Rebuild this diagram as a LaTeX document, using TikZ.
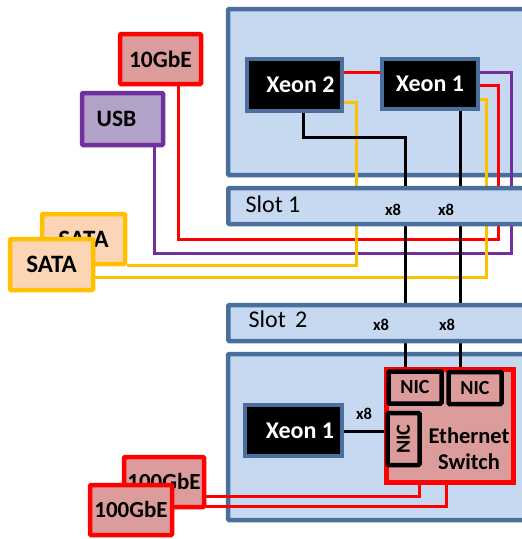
\documentclass[tikz,border=0pt]{standalone}
\usepackage{fontspec}
\setmainfont{Carlito}
\pgfdeclarelayer{boards}
\pgfdeclarelayer{wires}
\pgfsetlayers{boards,wires,main}
\definecolor{boardfill}{HTML}{C6D9F1}
\definecolor{boardline}{HTML}{4A6F9C}
\definecolor{redfill}{HTML}{DD9C9C}
\definecolor{purpfill}{HTML}{B3A2C7}
\definecolor{purpline}{HTML}{7030A0}
\definecolor{sataline}{HTML}{FFC000}
\definecolor{satafill}{HTML}{FBD5B5}
\tikzset{
  board/.style={draw=boardline, fill=boardfill, line width=4.5pt, rounded corners=1pt},
  xeon/.style={draw=boardline, fill=black, text=white, line width=4.5pt, font=\fontsize{24}{26}\selectfont\bfseries},
  dev/.style={line width=4.5pt, rounded corners=1pt, font=\fontsize{23.5}{26}\selectfont\bfseries},
  nic/.style={draw=black, fill=redfill, line width=4.5pt, rounded corners=1pt, inner sep=0pt, font=\fontsize{20}{22}\selectfont\bfseries},
  lane/.style={font=\fontsize{16.5}{18}\selectfont\bfseries},
  redwire/.style={draw=red, line width=3pt},
  purpwire/.style={draw=purpline, line width=3pt},
  satawire/.style={draw=sataline, line width=3pt},
  blackwire/.style={draw=black, line width=3pt}
}
\begin{document}
\begin{tikzpicture}[x=1pt, y=-1pt]
  \useasboundingbox (0,0) rectangle (522,539);

  \begin{pgfonlayer}{boards}
    \draw[board] (228,9) rectangle (535,175);
    \draw[board] (228,354) rectangle (535,520);
  \end{pgfonlayer}

  % top server
  \node[xeon, minimum width=95pt, minimum height=52pt] (xeonTwo) at (294.5,85) {\hspace*{12pt}Xeon 2};
  \node[xeon, minimum width=96pt, minimum height=50pt] (xeonOne) at (430,84) {Xeon 1};
  \node[board, anchor=west, minimum width=310pt, minimum height=36pt] (slotOne) at (226,206) {};
  \node[font=\fontsize{24}{26}\selectfont] (slotOneText) at (273,204) {Slot 1};
  \node[lane] (laneA) at (393,210) {x8};
  \node[lane] (laneB) at (446,210) {x8};

  % devices on the left
  \node[dev, draw=red, fill=redfill, minimum width=81pt, minimum height=50pt] (tenGbE) at (160.5,59) {10GbE};
  \node[dev, draw=purpline, fill=purpfill, minimum width=81pt, minimum height=52pt] (usb) at (122.5,119) {\hspace*{-12pt}USB};
  \node[dev, draw=sataline, fill=satafill, minimum width=83pt, minimum height=50pt, font=\fontsize{25}{27}\selectfont\bfseries] (sataBack) at (83.5,239) {SATA};
  \node[dev, draw=sataline, fill=satafill, minimum width=83pt, minimum height=51pt, font=\fontsize{25}{27}\selectfont\bfseries] (sataFront) at (51.5,264.5) {SATA};

  % bottom server
  \node[board, anchor=west, minimum width=310pt, minimum height=36pt] (slotTwo) at (226,323) {};
  \node[font=\fontsize{24}{26}\selectfont] (slotTwoText) at (278,319) {Slot\, 2};
  \node[lane] (laneC) at (381,325) {x8};
  \node[lane] (laneD) at (447,325) {x8};
  \node[xeon, minimum width=97pt, minimum height=51pt] (xeonLow) at (293.5,430.5) {\hspace*{13pt}Xeon 1};
  \node[draw=red, fill=redfill, line width=5pt, minimum width=127pt, minimum height=113pt] (switch) at (449.5,425.5) {};
  \node[nic, minimum width=53pt, minimum height=32pt] (nicA) at (415,387.5) {NIC};
  \node[nic, minimum width=53pt, minimum height=32pt] (nicB) at (475,388) {NIC};
  \node[nic, minimum width=32pt, minimum height=52pt] (nicC) at (403.5,439) {\rotatebox{90}{NIC}};
  \node[align=center, inner sep=0pt, font=\fontsize{22.5}{26}\selectfont\bfseries] (switchText) at (469,449) {Ethernet\\Switch};
  \node[lane] (laneE) at (364,414) {x8};
  \node[dev, draw=red, fill=redfill, minimum width=80pt, minimum height=50pt, font=\fontsize{23}{26}\selectfont\bfseries] (hundredBack) at (164,482) {100GbE};
  \node[dev, draw=red, fill=redfill, minimum width=82pt, minimum height=50pt, font=\fontsize{23}{26}\selectfont\bfseries] (hundredFront) at (131,510) {100GbE};

  \begin{pgfonlayer}{wires}
    \draw[redwire] (xeonTwo.east |- 0,72) -- (xeonOne.west |- 0,72);
    \draw[purpwire] (xeonOne.east |- 0,72) -- (511,72) |- (154,253) -- (154,147);
    \draw[redwire] (xeonOne.east |- 0,85) -- (498,85) |- (178,239) -- (178,86);
    \draw[satawire] (xeonOne.east |- 0,99) -- (486,99) |- (sataFront.east |- 0,277);
    \draw[satawire] (xeonTwo.east |- 0,102) -- (356,102) |- (sataBack.east |- 0,265);
    \draw[blackwire] (303,111) |- (405,137) -- (nicA.north -| 405,0);
    \draw[blackwire] (460,111) -- (nicB.north -| 460,0);
    \draw[blackwire] (xeonLow.east |- 0,431) -- (nicC.west |- 0,431);
    \draw[redwire] (hundredBack.east |- 0,496) -- (419,496) -- (419,484);
    \draw[redwire] (hundredFront.east |- 0,506) -- (446,506) -- (446,484);
  \end{pgfonlayer}
\end{tikzpicture}
\end{document}
